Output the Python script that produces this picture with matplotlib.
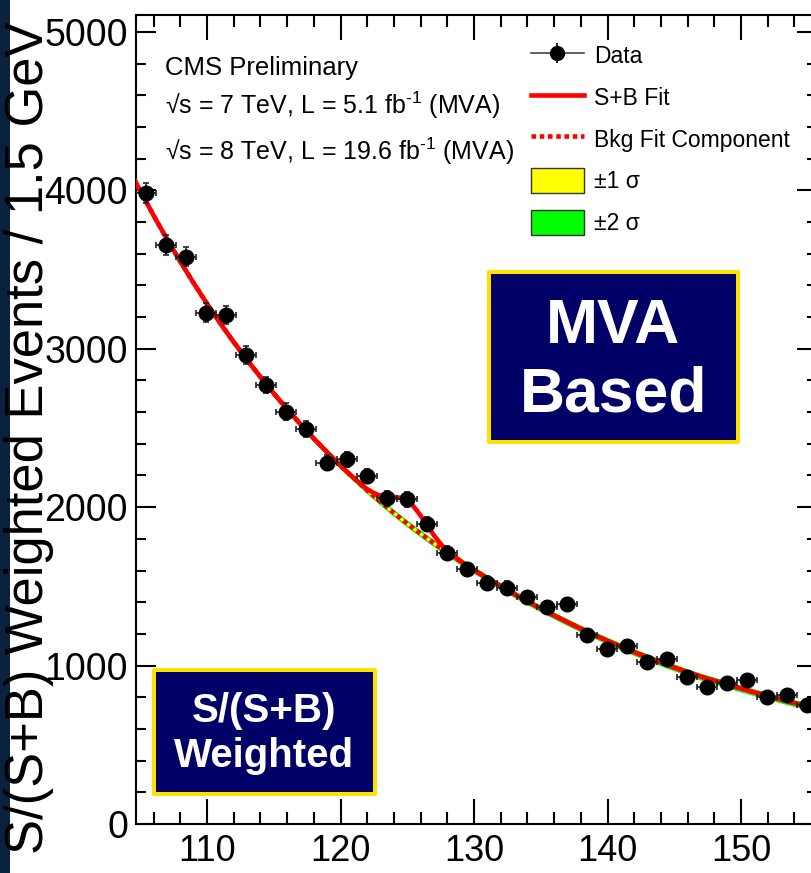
"""
Diphoton mass spectrum with S/(S+B) weighting, MVA analysis, with S+B fit.
"""

import matplotlib.pyplot as plt
from matplotlib.legend_handler import HandlerTuple
from matplotlib.lines import Line2D
from matplotlib.patches import Patch, Rectangle
from matplotlib.ticker import MultipleLocator

# weighted events in 1.5 GeV bins
mass = [
    105.45, 106.95, 108.45, 109.95, 111.45, 112.95, 114.45, 115.95, 117.45,
    118.95, 120.45, 121.95, 123.45, 124.95, 126.45, 127.95, 129.45, 130.95,
    132.45, 133.95, 135.45, 136.95, 138.45, 139.95, 141.45, 142.95, 144.45,
    145.95, 147.45, 148.95, 150.45, 151.95, 153.45, 154.95,
]
events = [
    3982, 3655, 3581, 3228, 3213, 2961, 2771, 2603, 2492,
    2281, 2302, 2197, 2056, 2050, 1894, 1713, 1608, 1523,
    1492, 1435, 1372, 1387, 1193, 1103, 1124, 1025, 1042,
    930, 867, 892, 909, 804, 814, 751,
]
events_err = [
    63, 61, 60, 58, 57, 55, 53, 52, 50,
    49, 48, 47, 46, 46, 44, 43, 42, 41,
    40, 39, 38, 38, 36, 35, 35, 34, 34,
    32, 31, 31, 31, 30, 30, 29,
]
bin_width = 1.5

# fitted curves
fit_mass = [
    104, 105, 106, 107, 108, 109, 110, 111, 112, 113, 114, 115, 116, 117,
    118, 119, 120, 120.5, 121, 121.5, 122, 122.5, 123, 123.5, 124, 124.5,
    125, 125.5, 126, 126.5, 127, 127.5, 128, 128.5, 129, 129.5, 130, 131,
    132, 133, 134, 135, 136, 137, 138, 139, 140, 141, 142, 143, 144, 145,
    146, 147, 148, 149, 150, 151, 152, 153, 154, 155, 156,
]
bkg_fit = [
    4157, 3996, 3841, 3692, 3550, 3414, 3284, 3160, 3042, 2930, 2822, 2718,
    2619, 2524, 2433, 2346, 2262, 2222, 2183, 2144, 2106, 2069, 2033, 1998,
    1963, 1929, 1896, 1864, 1833, 1802, 1772, 1742, 1713, 1685, 1657, 1630,
    1603, 1551, 1501, 1452, 1405, 1360, 1316, 1274, 1233, 1194, 1156, 1120,
    1085, 1051, 1019, 988, 958, 930, 905, 880, 855, 831, 808, 785, 763, 742,
    721,
]
sb_fit = [
    4157, 3996, 3841, 3692, 3550, 3414, 3284, 3160, 3042, 2930, 2822, 2718,
    2619, 2524, 2433, 2346, 2262, 2222, 2184, 2147, 2114, 2089, 2072, 2066,
    2064, 2059, 2041, 2002, 1947, 1883, 1822, 1768, 1725, 1690, 1659, 1630,
    1603, 1551, 1501, 1452, 1405, 1360, 1316, 1274, 1233, 1194, 1156, 1120,
    1085, 1051, 1019, 988, 958, 930, 905, 880, 855, 831, 808, 785, 763, 742,
    721,
]
# half widths of the background uncertainty bands
bkg_err_1sigma = 11
bkg_err_2sigma = 22

x_ticks = [110, 120, 130, 140, 150]
y_ticks = [0, 1000, 2000, 3000, 4000, 5000]

legend_labels = ["Data", "S+B Fit", "Bkg Fit Component", "±1 σ", "±2 σ"]

plt.rcParams["font.family"] = ["Liberation Sans", "DejaVu Sans"]
plt.rcParams["mathtext.fontset"] = "custom"
plt.rcParams["mathtext.rm"] = "Liberation Sans"
plt.rcParams["mathtext.it"] = "Liberation Sans"

W, H = 812, 873


def fx(px):
    return px / W


def fy(py):
    return 1 - py / H


fig = plt.figure(figsize=(W / 100, H / 100), dpi=100)
ax = fig.add_axes([fx(136), fy(824), (817 - 136) / W, (824 - 15) / H])

# background bands, then curves, then data on top
lo2 = [b - bkg_err_2sigma for b in bkg_fit]
hi2 = [b + bkg_err_2sigma for b in bkg_fit]
lo1 = [b - bkg_err_1sigma for b in bkg_fit]
hi1 = [b + bkg_err_1sigma for b in bkg_fit]
ax.fill_between(fit_mass, lo2, hi2, color="#00FF00", lw=0, zorder=1)
ax.fill_between(fit_mass, lo1, hi1, color="#FFFF00", lw=0, zorder=2)
ax.plot(fit_mass, bkg_fit, color="red", lw=3.3, ls=(0, (1, 0.8)), zorder=3)
ax.plot(fit_mass, sb_fit, color="red", lw=3.3, zorder=4)

ax.errorbar(
    mass, events, xerr=bin_width / 2, yerr=events_err,
    fmt="o", color="black", ecolor="#222222", ms=10.5,
    elinewidth=1.2, capsize=2.5, capthick=1.2, zorder=5,
)

ax.set_xlim(104.68, 155.69)
ax.set_ylim(0, 5107)
ax.set_xticks(x_ticks)
ax.set_yticks(y_ticks)
ax.xaxis.set_minor_locator(MultipleLocator(2))
ax.yaxis.set_minor_locator(MultipleLocator(200))

for side in ax.spines.values():
    side.set_linewidth(1.5)

ax.tick_params(which="both", direction="in", top=True, right=True,
               width=1.5, colors="black")
ax.tick_params(axis="x", which="major", length=18, labelsize=26, pad=7)
ax.tick_params(axis="x", which="minor", length=8.6)
ax.tick_params(axis="y", which="major", length=14.4, labelsize=27, pad=5.8)
ax.tick_params(axis="y", which="minor", length=7.2)

# legend
data_handle = (
    Line2D([], [], color="#444444", lw=1.2),
    Line2D([], [], marker="|", color="black", ms=14, mew=1.2, ls="none"),
    Line2D([], [], marker="o", color="black", ms=10, ls="none"),
)
handles = [
    data_handle,
    Line2D([], [], color="red", lw=3.3),
    Line2D([], [], color="red", lw=3.3, ls=(0, (1, 0.8))),
    Patch(facecolor="#FFFF00", edgecolor="#333333", lw=1),
    Patch(facecolor="#00FF00", edgecolor="#333333", lw=1),
]
ax.legend(
    handles, legend_labels,
    handler_map={tuple: HandlerTuple(ndivide=1)},
    loc="upper left", bbox_to_anchor=(fx(531), fy(43)),
    bbox_transform=fig.transFigure, frameon=False, fontsize=16.5,
    handlelength=2.3, handleheight=1.3, handletextpad=0.45,
    labelspacing=0.72, borderpad=0, borderaxespad=0,
)

# labels
fig.text(fx(165), fy(75), "CMS Preliminary", fontsize=18.5, va="baseline")
fig.text(fx(165), fy(114),
         r"√s = 7 TeV, L = 5.1 fb$^{\text{-1}}$ (MVA)",
         fontsize=18, va="baseline")
fig.text(fx(165), fy(160),
         r"√s = 8 TeV, L = 19.6 fb$^{\text{-1}}$ (MVA)",
         fontsize=18, va="baseline")

fig.text(fx(29), fy(22), "S/(S+B) Weighted Events / 1.5 GeV",
         rotation=90, rotation_mode="anchor", ha="right", va="center",
         fontsize=37.8)

# dark strip on the left edge
fig.add_artist(Rectangle((0, 0), fx(10), 1, transform=fig.transFigure,
                         facecolor="#08223f", edgecolor="none", zorder=0))

# method boxes
fig.add_artist(Rectangle((fx(489.3), fy(442)), (738 - 489.3) / W,
                         (442 - 272) / H, transform=fig.transFigure,
                         facecolor="#000066", edgecolor="#FFE100", lw=2.9,
                         joinstyle="round", zorder=10))
fig.text(fx(613.5), fy(343), "MVA", color="white", fontsize=45,
         fontweight="bold", ha="center", va="baseline", zorder=11)
fig.text(fx(613.5), fy(412), "Based", color="white", fontsize=45,
         fontweight="bold", ha="center", va="baseline", zorder=11)

fig.add_artist(Rectangle((fx(153.7), fy(794)), (374.7 - 153.7) / W,
                         (794 - 670.3) / H, transform=fig.transFigure,
                         facecolor="#000066", edgecolor="#FFE100", lw=2.9,
                         joinstyle="round", zorder=10))
fig.text(fx(264), fy(722), "S/(S+B)", color="white", fontsize=29,
         fontweight="bold", ha="center", va="baseline", zorder=11)
fig.text(fx(264), fy(767), "Weighted", color="white", fontsize=29,
         fontweight="bold", ha="center", va="baseline", zorder=11)

fig.savefig("out.png", dpi=100)
plt.close(fig)
